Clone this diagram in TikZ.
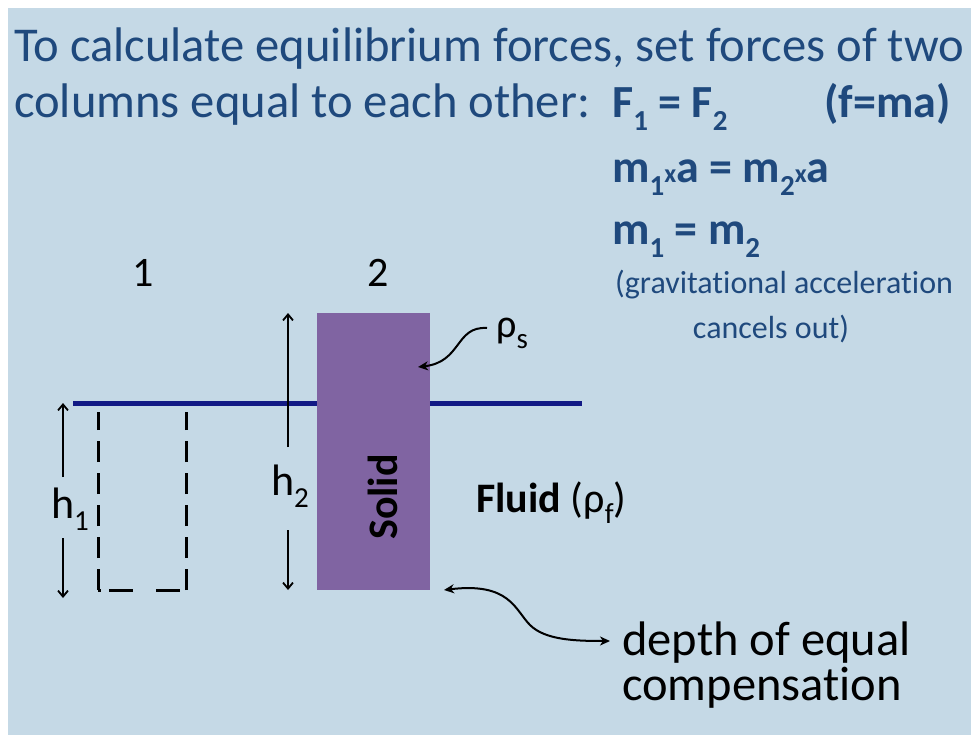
\documentclass[tikz,border=0pt]{standalone}
\usepackage{fontspec}
\setmainfont{Carlito}[Ligatures=NoCommon]
\usetikzlibrary{arrows.meta}
\definecolor{bgblue}{HTML}{C5D9E6}
\definecolor{txtblue}{HTML}{1F497D}
\definecolor{solidpurple}{HTML}{8064A2}
\definecolor{linenavy}{HTML}{121A85}
\newcommand{\fsz}[1]{\fontsize{#1}{#1}\selectfont}
\newcommand{\lowsub}[1]{\raisebox{-0.28em}{\fsz{29}#1}}
\newcommand{\tinyx}{{\fsz{26}x}}
\begin{document}
\begin{tikzpicture}[x=1pt,y=-1pt,
  txt/.style={inner sep=0pt, anchor=base west},
  title/.style={txt, text=txtblue, font=\fsz{48.6}},
  eqn/.style={txt, text=txtblue, font=\fsz{46}\bfseries},
  note/.style={inner sep=0pt, anchor=base, text=txtblue, font=\fsz{32}},
  label/.style={inner sep=0pt, anchor=base, font=\fsz{42}},
  dimarrow/.style={line width=1.8pt, -{Straight Barb[length=6pt,width=10pt]}},
  curvarrow/.style={line width=2pt, -{Stealth[length=10pt,width=9pt,inset=3pt]}},
  dbl/.style={line width=2pt, {Stealth[length=10pt,width=9pt,inset=3pt]}-{Stealth[length=10pt,width=9pt,inset=3pt]}}
]
\useasboundingbox (0,0) rectangle (971,735);
\fill[white] (0,0) rectangle (971,735);
\fill[bgblue] (8,8) rectangle (971,735);

% title
\node[title] (t1) at (14,62) {To calculate equilibrium forces, set forces of two};
\node[title] (t2) at (14,118) {columns equal to each other:};
\node[eqn] (e1) at (612,118) {F\lowsub{1} = F\lowsub{2}};
\node[eqn] (e1b) at (824,118) {(f=ma)};
\node[eqn] (e2) at (612,183) {m\lowsub{1}\tinyx a = m\lowsub{2}\tinyx a};
\node[eqn] (e3) at (612,245) {m\lowsub{1} = m\lowsub{2}};
\node[note] (n1) at (784,293) {(gravitational acceleration};
\node[note] (n2) at (771,338) {cancels out)};

% column labels
\node[label] (c1) at (143,287) {1};
\node[label] (c2) at (378,287) {2};

% fluid surface
\coordinate (sl) at (73,403);
\coordinate (sr) at (582,403);
\draw[linenavy, line width=5pt] (sl) -- (sr);

% solid block
\node[fill=solidpurple, minimum width=113pt, minimum height=277pt, inner sep=0pt, anchor=north west] (solid) at (317,313) {};
\node[rotate=90, inner sep=0pt, font=\fsz{42}\bfseries] (solidtxt) at (383,497) {Solid};

% dashed column 1
\coordinate (d1) at (98,412);
\coordinate (d2) at (98,590);
\coordinate (d3) at (186,590);
\coordinate (d4) at (186,412);
\draw[line width=3pt, dash pattern=on 21pt off 11pt] (d2) -- (d1);
\draw[line width=3pt, dash pattern=on 21pt off 11pt] (d3) -- (d4);
\draw[line width=3pt, dash pattern=on 3pt off 8pt on 24pt off 23pt on 24pt off 8pt] (d2) -- (d3);

% h1
\node[inner sep=0pt, anchor=base, font=\fsz{44}] (h1) at (70,518) {h\lowsub{1}};
\coordinate (h1t) at (63,403);
\coordinate (h1b) at (63,598);
\draw[dimarrow] (63,477) -- (h1t);
\draw[dimarrow] (63,538) -- (h1b);

% h2
\node[inner sep=0pt, anchor=base, font=\fsz{44}] (h2) at (290,495) {h\lowsub{2}};
\coordinate (h2t) at (288,313);
\coordinate (h2b) at (288,590);
\draw[dimarrow] (288,447) -- (h2t);
\draw[dimarrow] (288,530) -- (h2b);

% rho_s
\node[txt, font=\fsz{40}] (rhos) at (496,337) {ρ\lowsub{s}};
\coordinate (rhosarr) at (418,367);
\draw[curvarrow] (487,328) .. controls (455,326) and (462,362) .. (rhosarr);

% Fluid
\node[txt, font=\fsz{42}] (fluid) at (476,512) {\textbf{Fluid} (ρ\lowsub{f})};

% depth of equal compensation
\node[txt, font=\fsz{48.5}] (depth1) at (622,655) {depth of equal};
\node[txt, font=\fsz{48.5}] (depth2) at (622,700) {compensation};
\coordinate (dl) at (444,590);
\coordinate (dr) at (610,641);
\draw[dbl] (dl) .. controls (510,582) and (515,610) .. (530,625) .. controls (545,640) and (575,641) .. (dr);
\end{tikzpicture}
\end{document}
